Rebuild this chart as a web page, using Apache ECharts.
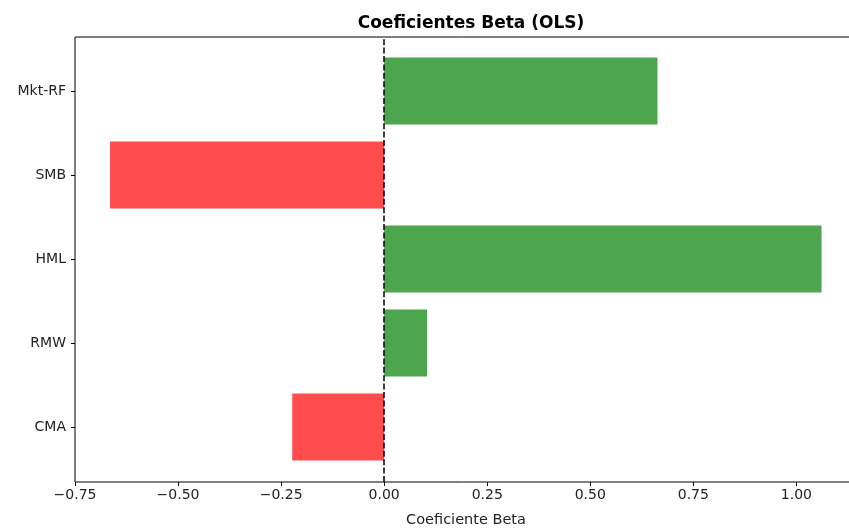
<!DOCTYPE html>
<html>
<head>
<meta charset="utf-8">
<script src="https://cdn.jsdelivr.net/npm/echarts@6/dist/echarts.min.js"></script>
<style>
  html, body { margin: 0; padding: 0; background: #fff; }
  #chart { width: 849px; height: 531px; }
</style>
</head>
<body>
<div id="chart"></div>
<script>
// datos
var factors = ['Mkt-RF', 'SMB', 'HML', 'RMW', 'CMA'];
var betas = [0.663, -0.665, 1.061, 0.104, -0.223];
var xMin = -0.75, xMax = 1.147;

var myChart = echarts.init(document.getElementById('chart'));

function fmt(v) {
    return v.toFixed(2).replace('-', '\u2212');
}

var option = {
    backgroundColor: '#fff',
    textStyle: { fontFamily: 'DejaVu Sans' },
    title: {
        text: 'Coeficientes Beta (OLS)',
        left: 466,
        textAlign: 'center',
        top: 10,
        textStyle: { fontFamily: 'DejaVu Sans', fontSize: 17, fontWeight: 'bold', color: '#000' }
    },
    grid: [
        // barras
        { left: 75, width: 782, top: 49, bottom: 62, outerBoundsMode: 'none' },
        // marco + eje x
        { left: 75, width: 782, top: 37, bottom: 49, outerBoundsMode: 'none', show: true, borderColor: '#000', borderWidth: 1, backgroundColor: 'transparent' }
    ],
    xAxis: [
        { gridIndex: 0, type: 'value', min: xMin, max: xMax, show: false },
        {
            gridIndex: 1, type: 'value', min: xMin, max: xMax, interval: 0.25,
            axisLine: { show: false },
            axisTick: { show: true, length: 4, lineStyle: { color: '#000' } },
            splitLine: { show: false },
            axisLabel: { showMaxLabel: false, color: '#222', fontSize: 14, margin: 6, formatter: fmt },
            name: 'Coeficiente Beta',
            nameLocation: 'middle',
            nameGap: 31,
            nameTextStyle: { color: '#222', fontSize: 14.5 }
        }
    ],
    yAxis: [
        {
            gridIndex: 0, type: 'category', data: factors, inverse: true,
            axisLine: { show: false, onZero: false },
            axisTick: { show: true, alignWithLabel: true, length: 4, lineStyle: { color: '#000' } },
            axisLabel: { color: '#222', fontSize: 14, margin: 9 }
        },
        { gridIndex: 1, type: 'value', min: 0, max: 1, show: false }
    ],
    series: [
        {
            type: 'bar',
            xAxisIndex: 0,
            yAxisIndex: 0,
            barWidth: '80%',
            data: betas.map(function (b) {
                return { value: b, itemStyle: { color: b >= 0 ? '#4da64d' : '#ff4d4d' } };
            }),
            z: 2
        },
        {
            type: 'line',
            xAxisIndex: 1,
            yAxisIndex: 1,
            data: [],
            z: 5,
            markLine: {
                silent: true,
                symbol: 'none',
                label: { show: false },
                lineStyle: { color: '#000', width: 1.5, type: [6, 2.4] },
                data: [{ xAxis: 0 }]
            }
        }
    ]
};

myChart.setOption(option);
</script>
</body>
</html>
